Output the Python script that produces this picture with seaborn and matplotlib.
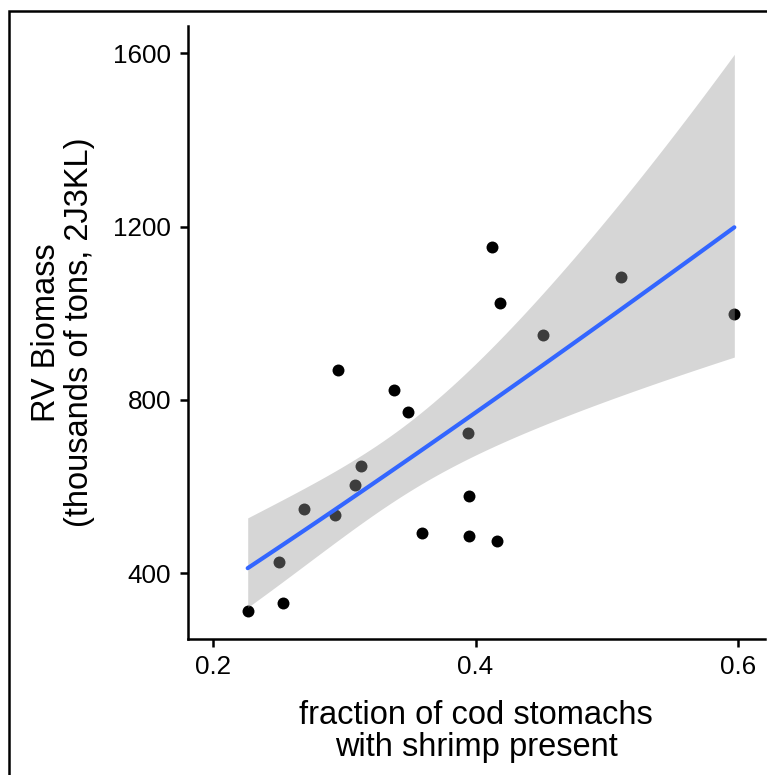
import numpy as np
import pandas as pd
import matplotlib
matplotlib.use("Agg")
import matplotlib.pyplot as plt
import seaborn as sns
from matplotlib.patches import Rectangle

# Fraction of cod stomachs containing shrimp vs. research-vessel shrimp biomass
shrimp_fraction = [0.2262, 0.2534, 0.2501, 0.2692, 0.2931, 0.3083, 0.3129,
                   0.2953, 0.3378, 0.3483, 0.3594, 0.3943, 0.3950, 0.3950,
                   0.4126, 0.4162, 0.4187, 0.4513, 0.5110, 0.5974]
rv_biomass = [313, 331, 425, 549, 534, 604, 648,
              870, 822, 773, 492, 724, 579, 486,
              1154, 475, 1024, 950, 1084, 999]

x_ticks = [0.2, 0.4, 0.6]
y_ticks = [400, 800, 1200, 1600]
x_label = "fraction of cod stomachs\nwith shrimp present"
y_label = "RV Biomass\n(thousands of tons, 2J3KL)"

df = pd.DataFrame({"frac": shrimp_fraction, "biomass": rv_biomass})

# Gamma GLM with log link on log(fraction), fitted by IRLS.
# For Gamma/log the working weights are all 1, so each step is plain OLS.
y = df["biomass"].to_numpy(dtype=float)
X = np.column_stack([np.ones(len(y)), np.log(df["frac"].to_numpy())])
eta = np.log(y)
for _ in range(50):
    mu = np.exp(eta)
    z = eta + (y - mu) / mu
    beta, *_ = np.linalg.lstsq(X, z, rcond=None)
    eta_new = X @ beta
    if np.max(np.abs(eta_new - eta)) < 1e-12:
        eta = eta_new
        break
    eta = eta_new
mu = np.exp(eta)
n, p = X.shape
dispersion = np.sum(((y - mu) / mu) ** 2) / (n - p)
cov = dispersion * np.linalg.inv(X.T @ X)
z_crit = 1.959964  # normal quantile for a 95% band on the link scale

grid = np.linspace(df["frac"].min(), df["frac"].max(), 80)
G = np.column_stack([np.ones_like(grid), np.log(grid)])
fit_link = G @ beta
se = np.sqrt(np.einsum("ij,jk,ik->i", G, cov, G))
fit = pd.DataFrame({
    "frac": grid,
    "biomass": np.exp(fit_link),
    "lo": np.exp(fit_link - z_crit * se),
    "hi": np.exp(fit_link + z_crit * se),
})

sns.set_style("ticks")
plt.rcParams["font.family"] = ["Liberation Sans", "DejaVu Sans"]

fig = plt.figure(figsize=(7.67, 7.75), dpi=100)
ax = fig.add_axes([0.2445, 0.1761, 0.7529, 0.7904])

sns.scatterplot(data=df, x="frac", y="biomass", color="black", s=74,
                linewidth=0, ax=ax, zorder=1)
ax.fill_between(fit["frac"], fit["lo"], fit["hi"], color="#999999",
                alpha=0.4, linewidth=0, zorder=2)
sns.lineplot(data=fit, x="frac", y="biomass", color="#3366FF",
             linewidth=3.0, ax=ax, zorder=3)

ax.set_xlim(0.1803, 0.6208)
ax.set_ylim(249.5, 1663)
ax.set_xticks(x_ticks)
ax.set_xticklabels([f"{v:.1f}" for v in x_ticks])
ax.set_yticks(y_ticks)
ax.set_yticklabels([str(v) for v in y_ticks])

for side in ("top", "right"):
    ax.spines[side].set_visible(False)
for side in ("left", "bottom"):
    ax.spines[side].set_linewidth(1.8)
    ax.spines[side].set_color("black")
ax.tick_params(axis="both", length=5.8, width=1.8, color="black",
               labelsize=18.7, labelcolor="black", pad=6)

ax.set_xlabel(x_label, fontsize=23.5, linespacing=1.07, labelpad=15,
              color="black")
ax.set_ylabel(y_label, fontsize=23.5, linespacing=1.07, labelpad=13,
              color="black")

# Outer frame around the whole figure
fig.patches.append(Rectangle((0.0111, -0.1), 1.2, 1.0858,
                             transform=fig.transFigure, fill=False,
                             edgecolor="black", linewidth=1.8,
                             clip_on=False))

fig.savefig("out.png", dpi=100)
